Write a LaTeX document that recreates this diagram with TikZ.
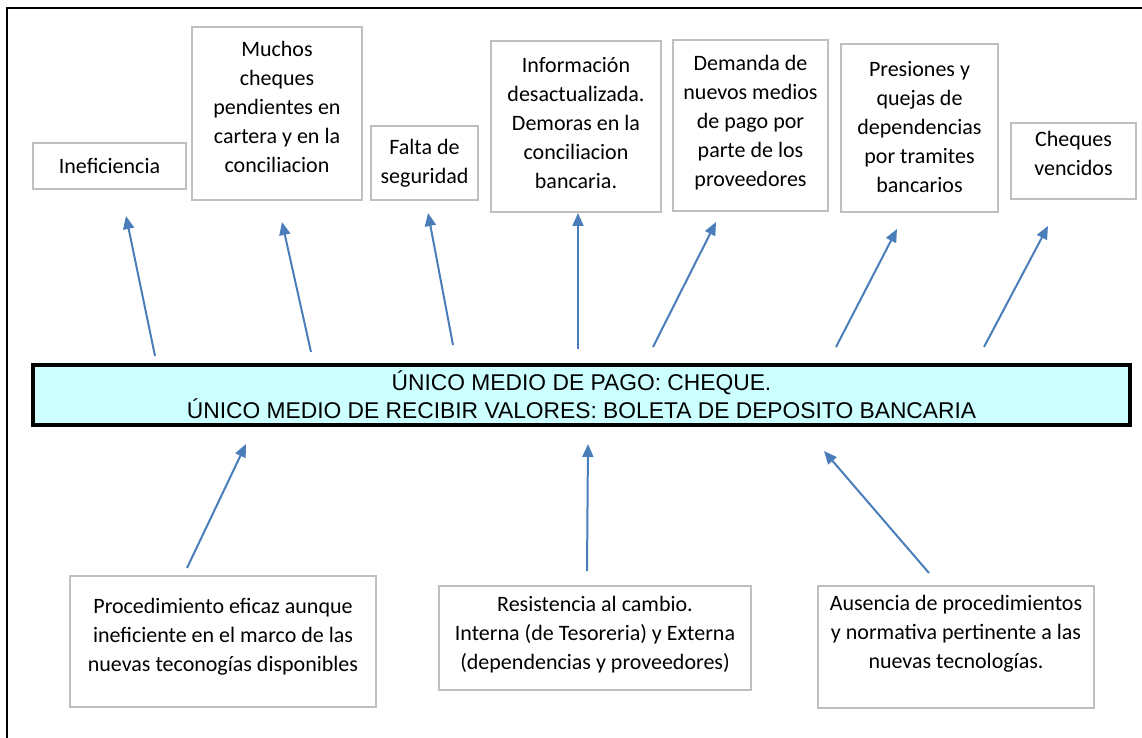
\documentclass[tikz,border=0pt]{standalone}
\usepackage{fontspec}
\setmainfont{Carlito}
\newfontfamily\arialfont{Liberation Sans}
\usetikzlibrary{arrows.meta}
\definecolor{boxgray}{RGB}{191,191,191}
\definecolor{linkblue}{RGB}{74,126,187}
\definecolor{corecyan}{RGB}{204,255,255}
\newcommand{\padbelow}[1]{\rule[-#1]{0pt}{0pt}}

\begin{document}
\begin{tikzpicture}[x=0.5pt, y=-0.5pt,
  effbox/.style={draw=boxgray, line width=0.75pt, align=center, inner sep=0pt,
    font=\fontsize{11}{14.5}\selectfont},
  corebox/.style={draw=black, line width=2pt, fill=corecyan, align=center, inner sep=0pt,
    font=\arialfont\fontsize{11.4}{14}\selectfont},
  link/.style={draw=linkblue, line width=1pt, -{Triangle[length=6.5pt,width=5.5pt]}}]
\useasboundingbox (0,0) rectangle (1142,738);
% frame
\draw[line width=1.3pt] (7,738) -- (7,8) -- (1142,8);
% effects
\node[effbox, minimum width=76.5pt, minimum height=23pt] (inef) at (109.5,166) {Ineficiencia};
\node[effbox, minimum width=85pt, minimum height=86.5pt] (pend) at (277,113.5)
  {Muchos\\cheques\\pendientes en\\cartera y en la\\conciliacion\padbelow{6.5pt}};
\node[effbox, minimum width=53.5pt, minimum height=37pt] (segu) at (424.5,163) {Falta de\\seguridad};
\node[effbox, minimum width=85pt, minimum height=85.5pt] (info) at (576,126.5)
  {Información\\desactualizada.\\Demoras en la\\conciliacion\\bancaria.\padbelow{4pt}};
\node[effbox, minimum width=77.5pt, minimum height=85.5pt] (dema) at (750.5,125.5)
  {Demanda de\\nuevos medios\\de pago por\\parte de los\\proveedores\padbelow{4.5pt}};
\node[effbox, minimum width=78.5pt, minimum height=84pt] (pres) at (919.5,128)
  {Presiones y\\quejas de\\dependencias\\por tramites\\bancarios\padbelow{1pt}};
\node[effbox, minimum width=62.5pt, minimum height=38pt] (venc) at (1073.5,161)
  {Cheques\\vencidos\padbelow{8pt}};
% core problem
\node[corebox, minimum width=548.5pt, minimum height=30pt] (core) at (581.5,395)
  {ÚNICO MEDIO DE PAGO: CHEQUE.\\ÚNICO MEDIO DE RECIBIR VALORES: BOLETA DE DEPOSITO BANCARIA};
% causes
\node[effbox, minimum width=153pt, minimum height=65.5pt] (proc) at (223,641.5)
  {Procedimiento eficaz aunque\\ineficiente en el marco de las\\nuevas teconogías disponibles\padbelow{6.5pt}};
\node[effbox, minimum width=156pt, minimum height=52pt] (resi) at (595,638)
  {Resistencia al cambio.\\Interna (de Tesoreria) y Externa\\(dependencias y proveedores)\padbelow{5pt}};
\node[effbox, minimum width=138pt, minimum height=61pt] (ause) at (956,647)
  {Ausencia de procedimientos\\y normativa pertinente a las\\nuevas tecnologías.\padbelow{15pt}};
% arrows
\foreach \i/\tx/\ty/\hx/\hy in {1/155/356/126/216, 2/311/352/282/222, 3/453/345/428/213,
    4/578/349/578/213, 5/653/347/716/222, 6/836/347/897/229, 7/984/347/1048/226,
    8/187/568/246/444, 9/587/571/588/444, 10/929/573/824/451}{
  \coordinate (t\i) at (\tx,\ty);
  \coordinate (h\i) at (\hx,\hy);
  \draw[link] (t\i) -- (h\i);
}
\end{tikzpicture}
\end{document}
